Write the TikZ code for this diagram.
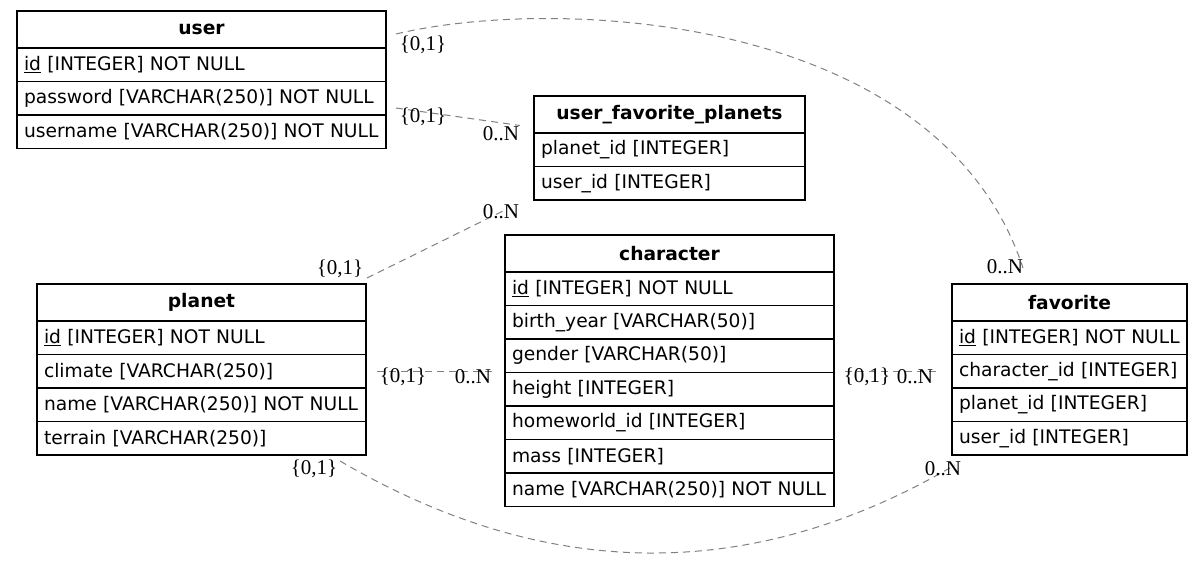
\documentclass[tikz,border=0pt]{standalone}
\usepackage{fontspec}
\setmainfont{DejaVu Sans}
\newfontfamily\lblfont{Liberation Serif}
\usetikzlibrary{positioning}
\newcommand{\erfont}{\fontsize{18.67}{22}\selectfont}

\begin{document}
\begin{tikzpicture}[x=1pt,y=-1pt,
        etitle/.style={draw, line width=1.3pt, outer sep=0pt, inner xsep=7pt, inner ysep=0pt,
            minimum height=37pt, text width=#1, align=center, font=\erfont\bfseries},
        erow/.style={draw, line width=1.3pt, outer sep=0pt, inner xsep=7pt, inner ysep=0pt,
            minimum height=33.5pt, text width=#1, align=left, font=\erfont},
        rel/.style={draw=gray, line width=1pt, dash pattern=on 7pt off 5pt},
        card/.style={font=\fontsize{21}{24}\selectfont\lblfont, inner sep=0pt}]
        \useasboundingbox (0,0) rectangle (1203,560);

        % user table
        \node[etitle=355pt, anchor=north west, alias=user-0] (user) at (17,11) {user};
        \foreach \txt [count=\i, remember=\i as \j (initially 0)] in
            {\underline{id} [INTEGER] NOT NULL, password [VARCHAR(250)] NOT NULL, username [VARCHAR(250)] NOT NULL} {
            \node[erow=355pt, below=0pt of user-\j] (user-\i) {\txt};
        }

        % user_favorite_planets table
        \node[etitle=257pt, anchor=north west, alias=ufp-0] (ufp) at (534,96) {user\_favorite\_planets};
        \foreach \txt [count=\i, remember=\i as \j (initially 0)] in
            {planet\_id [INTEGER], user\_id [INTEGER]} {
            \node[erow=257pt, below=0pt of ufp-\j] (ufp-\i) {\txt};
        }

        % character table
        \node[etitle=315pt, anchor=north west, alias=character-0] (character) at (505,235) {character};
        \foreach \txt [count=\i, remember=\i as \j (initially 0)] in
            {\underline{id} [INTEGER] NOT NULL, birth\_year [VARCHAR(50)], gender [VARCHAR(50)], height [INTEGER],
             homeworld\_id [INTEGER], mass [INTEGER], name [VARCHAR(250)] NOT NULL} {
            \node[erow=315pt, below=0pt of character-\j] (character-\i) {\txt};
        }

        % planet table
        \node[etitle=315pt, anchor=north west, alias=planet-0] (planet) at (37,284) {planet};
        \foreach \txt [count=\i, remember=\i as \j (initially 0)] in
            {\underline{id} [INTEGER] NOT NULL, climate [VARCHAR(250)], name [VARCHAR(250)] NOT NULL, terrain [VARCHAR(250)]} {
            \node[erow=315pt, below=0pt of planet-\j] (planet-\i) {\txt};
        }

        % favorite table
        \node[etitle=221pt, anchor=north west, alias=favorite-0] (favorite) at (952,284) {favorite};
        \foreach \txt [count=\i, remember=\i as \j (initially 0)] in
            {\underline{id} [INTEGER] NOT NULL, character\_id [INTEGER], planet\_id [INTEGER], user\_id [INTEGER]} {
            \node[erow=221pt, below=0pt of favorite-\j] (favorite-\i) {\txt};
        }

        % relations
        \draw[rel] ([shift={(10,23)}]user.north east) .. controls (560,-5) and (940,15) .. ([shift={(71,-16)}]favorite.north west);
        \draw[rel] ([shift={(10,-7)}]user-2.south east) -- ([shift={(-14,11)}]ufp.west);
        \draw[rel] ([shift={(1,-6)}]planet.north east) -- ([shift={(-29,10)}]ufp-2.south west);
        \draw[rel] ([xshift=11pt]planet-2.east) -- ([xshift=-13pt]planet-2.east -| character.west);
        \draw[rel] ([xshift=11pt]favorite-2.west -| character.east) -- ([xshift=-12pt]favorite-2.west);
        \draw[rel] ([shift={(-26,6)}]planet-4.south east) .. controls (545,581) and (750,585) .. ([shift={(3,10)}]favorite-4.south west);

        % cardinalities
        \node[card] (uf-one) at (423,45) {\{0,1\}};
        \node[card] (uf-many) at (1005,267) {0..N};
        \node[card] (uu-one) at (423,117) {\{0,1\}};
        \node[card] (uu-many) at (501,134) {0..N};
        \node[card] (pu-one) at (340,269) {\{0,1\}};
        \node[card] (pu-many) at (501,212) {0..N};
        \node[card] (pc-one) at (403,377) {\{0,1\}};
        \node[card] (pc-many) at (473,377) {0..N};
        \node[card] (cf-one) at (867,377) {\{0,1\}};
        \node[card] (cf-many) at (915,377) {0..N};
        \node[card] (pf-one) at (314,469) {\{0,1\}};
        \node[card] (pf-many) at (943,469) {0..N};
\end{tikzpicture}
\end{document}
